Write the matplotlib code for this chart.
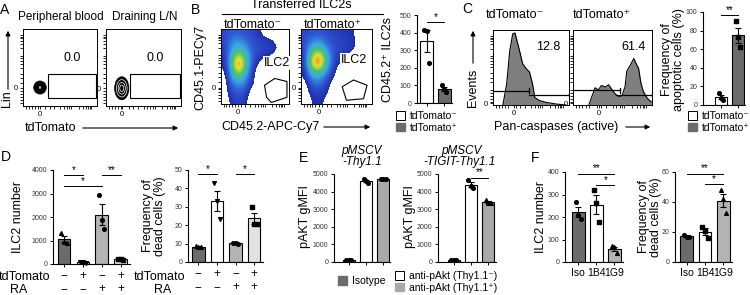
import numpy as np
import matplotlib
matplotlib.use("Agg")
import matplotlib.pyplot as plt
from matplotlib.patches import Patch, Ellipse, Polygon, Rectangle, FancyArrowPatch
from matplotlib.lines import Line2D
from matplotlib.colors import LinearSegmentedColormap

plt.rcParams['font.family'] = ['Liberation Sans', 'DejaVu Sans']

# ---------------- data ----------------
# A: contour blobs (axes fraction) and gate values
blob_centers = [(0.23, 0.24), (0.21, 0.23)]
blob_sizes = [(0.17, 0.17), (0.19, 0.30)]
gate_a = [(0.34, 0.11, 0.98, 0.42), (0.32, 0.11, 0.98, 0.42)]
pct_a = ["0.0", "0.0"]

# B: density grids (rows top->bottom, cols left->right)
dens_neg = [
    [0.15, 0.20, 0.20, 0.18, 0.15, 0.12, 0.00, 0.00, 0.00, 0.00],
    [0.15, 0.25, 0.30, 0.25, 0.18, 0.15, 0.12, 0.10, 0.00, 0.00],
    [0.12, 0.30, 0.45, 0.35, 0.20, 0.17, 0.14, 0.12, 0.09, 0.00],
    [0.10, 0.35, 0.70, 0.50, 0.22, 0.14, 0.10, 0.08, 0.00, 0.00],
    [0.08, 0.40, 0.98, 0.60, 0.20, 0.08, 0.00, 0.00, 0.00, 0.00],
    [0.05, 0.35, 0.80, 0.50, 0.16, 0.00, 0.00, 0.00, 0.00, 0.00],
    [0.00, 0.30, 0.50, 0.35, 0.12, 0.00, 0.00, 0.00, 0.00, 0.00],
    [0.00, 0.20, 0.30, 0.25, 0.10, 0.00, 0.00, 0.00, 0.00, 0.00],
    [0.00, 0.15, 0.20, 0.18, 0.00, 0.00, 0.00, 0.00, 0.00, 0.00],
    [0.00, 0.10, 0.15, 0.12, 0.00, 0.00, 0.00, 0.00, 0.00, 0.00],
]
dens_pos = [
    [0.15, 0.18, 0.18, 0.16, 0.14, 0.12, 0.10, 0.08, 0.00, 0.00],
    [0.16, 0.25, 0.30, 0.22, 0.16, 0.14, 0.12, 0.10, 0.00, 0.00],
    [0.14, 0.40, 0.50, 0.30, 0.18, 0.15, 0.13, 0.10, 0.00, 0.00],
    [0.12, 0.60, 0.85, 0.45, 0.18, 0.12, 0.08, 0.00, 0.00, 0.00],
    [0.10, 0.70, 1.00, 0.50, 0.16, 0.08, 0.00, 0.00, 0.00, 0.00],
    [0.08, 0.50, 0.60, 0.35, 0.12, 0.00, 0.00, 0.00, 0.00, 0.00],
    [0.06, 0.30, 0.35, 0.22, 0.08, 0.00, 0.00, 0.00, 0.00, 0.00],
    [0.00, 0.20, 0.22, 0.15, 0.00, 0.00, 0.00, 0.00, 0.00, 0.00],
    [0.00, 0.12, 0.15, 0.10, 0.00, 0.00, 0.00, 0.00, 0.00, 0.00],
    [0.00, 0.08, 0.10, 0.06, 0.00, 0.00, 0.00, 0.00, 0.00, 0.00],
]
gate_neg = [(0.64, 0.25), (0.79, 0.34), (0.97, 0.30), (0.97, 0.09), (0.74, 0.02), (0.67, 0.09)]
gate_pos = [(0.58, 0.23), (0.74, 0.32), (0.93, 0.25), (0.88, 0.07), (0.64, 0.05)]
b_pts = [[415, 410, 225], [100, 80, 60]]

# C: histograms (axes fraction)
neg_x = [0.13, 0.18, 0.22, 0.26, 0.29, 0.31, 0.35, 0.39, 0.44, 0.48, 0.52, 0.55, 0.61, 0.70, 0.83, 0.96]
neg_y = [0.0, 0.28, 0.72, 0.95, 0.96, 0.88, 0.72, 0.55, 0.48, 0.44, 0.28, 0.10, 0.06, 0.035, 0.013, 0.0]
pos_x = [0.20, 0.24, 0.28, 0.32, 0.36, 0.41, 0.45, 0.49, 0.54, 0.58, 0.62, 0.66, 0.68, 0.73,
         0.77, 0.80, 0.83, 0.86, 0.89, 0.94, 0.98, 1.0]
pos_y = [0.0, 0.115, 0.23, 0.20, 0.26, 0.24, 0.27, 0.21, 0.14, 0.115, 0.12, 0.25, 0.45, 0.54,
         0.62, 0.55, 0.49, 0.29, 0.18, 0.09, 0.05, 0.04]
c_pts = [[13, 7.5, 5.5], [90, 73, 62]]

# D
td_row = ["−", "+", "−", "+"]
ra_row = ["−", "−", "+", "+"]
d_ilc2 = [[1300, 950, 900], [80, 70, 55], [2950, 1880, 1480], [230, 200, 170]]
d_dead = [[8.8, 8.2, 8.0], [43, 33, 23.5], [10.5, 10.2, 10.0], [30, 20.5, 20.5]]

# E
e_thy = [[110, 100, 95], [4700, 4600, 4470], [4720, 4700, 4690]]
e_tigit = [[110, 100, 95], [4680, 4300, 4200], [3500, 3380, 3330]]

# F
f_labels = ["Iso", "1B4", "1G9"]
f_ilc2 = [[265, 210, 190], [322, 263, 179], [72, 65, 40]]
f_dead = [[18.2, 17, 17], [23.5, 21, 16], [48, 42, 33]]

DARK, MID, LIGHT, PALE = "#6b6b6b", "#a9a9a9", "#b4b4b4", "#e3e3e3"
FS = 9

# ---------------- helpers ----------------
W, H = 750, 295
fig = plt.figure(figsize=(7.5, 2.95), dpi=100)


def axes_px(x0, y0, x1, y1):
    return fig.add_axes([x0 / W, 1 - y1 / H, (x1 - x0) / W, (y1 - y0) / H])


def text_px(x, y, s, **kw):
    kw.setdefault("ha", "center")
    kw.setdefault("va", "center")
    kw.setdefault("fontsize", FS)
    fig.text(x / W, 1 - y / H, s, **kw)


def arrow_px(x0, y0, x1, y1):
    fig.add_artist(FancyArrowPatch((x0 / W, 1 - y0 / H), (x1 / W, 1 - y1 / H),
                                   transform=fig.transFigure, arrowstyle="-|>",
                                   mutation_scale=7, lw=0.8, color="black"))


minor = [0.04, 0.08, 0.12, 0.16, 0.2, 0.3, 0.36, 0.42, 0.5, 0.55, 0.59, 0.62, 0.65,
         0.75, 0.81, 0.85, 0.88, 0.9, 0.92]


def flow_style(ax, x0, y0):
    ax.set_xlim(0, 1)
    ax.set_ylim(0, 1)
    for s in ax.spines.values():
        s.set_linewidth(0.7)
    ax.set_xticks([x0])
    ax.set_xticklabels(["0"])
    ax.set_yticks([y0])
    ax.set_yticklabels(["0"])
    ax.set_xticks(minor, minor=True)
    ax.set_yticks(minor, minor=True)
    ax.tick_params(which="both", length=2, width=0.6, labelsize=5.5, pad=1.5)


def bar_panel(ax, pts, colors, markers, xlim, ylim, yticks, width=0.7):
    offs = [-0.14, 0.0, 0.14]
    for i, p in enumerate(pts):
        m = np.mean(p)
        sem = np.std(p, ddof=1) / np.sqrt(len(p))
        ax.bar(i, m, width=width, color=colors[i], edgecolor="black", lw=0.8, zorder=1)
        ax.errorbar(i, m, yerr=sem, color="black", capsize=2.2, lw=0.8, capthick=0.8, zorder=3)
        ax.scatter(np.array(offs[:len(p)]) + i, p, marker=markers[i], s=7, color="black",
                   zorder=4, clip_on=False)
    ax.set_xlim(*xlim)
    ax.set_ylim(*ylim)
    ax.set_yticks(yticks)
    ax.set_xticks(range(len(pts)))
    ax.set_xticklabels([])
    for s in ["top", "right"]:
        ax.spines[s].set_visible(False)
    for s in ["left", "bottom"]:
        ax.spines[s].set_linewidth(0.8)
    ax.tick_params(length=2.5, width=0.7, labelsize=5, pad=1.5, labelcolor="#333333")


def sig(ax, a, b, y, s):
    ax.plot([a, b], [y, y], color="black", lw=0.7, clip_on=False)
    ax.text((a + b) / 2, y, s, ha="center", va="bottom", fontsize=7, clip_on=False)


def legend_px(x, y, handles, labels):
    fig.legend(handles, labels, loc="upper left", bbox_to_anchor=(x / W, 1 - y / H),
               frameon=False, fontsize=7.5, handlelength=0.9, handleheight=0.9,
               handletextpad=0.4, labelspacing=0.15, borderpad=0, borderaxespad=0)


cmap = LinearSegmentedColormap.from_list(
    "flow", [(0, "#1c2fb0"), (0.12, "#2f52d0"), (0.3, "#38a8e8"), (0.5, "#4cc46a"),
             (0.7, "#e8e030"), (0.85, "#f08a20"), (1, "#e01818")])
cmap.set_under("white")

# ---------------- panel A ----------------
text_px(5, 10, "A", fontsize=10)
for k, (x0, x1, title, tx) in enumerate([(23, 97, "Peripheral blood", 61), (106, 181, "Draining L/N", 145)]):
    ax = axes_px(x0, 29, x1, 106)
    flow_style(ax, blob_centers[k][0], blob_centers[k][1])
    cx, cy = blob_centers[k]
    bw, bh = blob_sizes[k]
    ax.add_patch(Ellipse((cx, cy), bw, bh, facecolor="black", edgecolor="black", lw=0.5))
    rings = [0.12] if k == 0 else [0.75, 0.5, 0.28]
    for f in rings:
        ax.add_patch(Ellipse((cx, cy), bw * f, bh * f, facecolor="none", edgecolor="white", lw=0.5))
    gx0, gy0, gx1, gy1 = gate_a[k]
    ax.add_patch(Rectangle((gx0, gy0), gx1 - gx0, gy1 - gy0, fill=False, lw=0.8))
    ax.text(0.66, 0.62, pct_a[k], fontsize=FS, ha="center", va="center", transform=ax.transAxes)
    text_px(tx, 17, title, fontsize=8.5)
arrow_px(8, 92, 8, 28)
text_px(7, 99, "Lin", rotation=90)
text_px(51, 128, "tdTomato")
arrow_px(80, 128, 181, 128)

# ---------------- panel B ----------------
text_px(195, 10, "B", fontsize=10)
text_px(301, 5, "Transferred ILC2s")
fig.add_artist(Line2D([222 / W, 383 / W], [1 - 14 / H, 1 - 14 / H], transform=fig.transFigure,
                      color="black", lw=0.8))
for dens, gate, (x0, x1), title, tx, lab in [
        (dens_neg, gate_neg, (221, 289), "tdTomato⁻", 253, (0.82, 0.55)),
        (dens_pos, gate_pos, (301, 372), "tdTomato⁺", 333, (0.74, 0.59))]:
    ax = axes_px(x0, 29, x1, 104)
    ax.imshow(dens, extent=(0, 1, 0, 1), origin="upper", interpolation="bicubic",
              interpolation_stage="data", cmap=cmap, vmin=0.075, vmax=1, aspect="auto")
    flow_style(ax, 0.25, 0.22)
    ax.add_patch(Polygon(gate, closed=True, fill=False, lw=0.8))
    ax.text(lab[0], lab[1], "ILC2", fontsize=FS, ha="center", va="center", transform=ax.transAxes,
            bbox=dict(facecolor="white", edgecolor="none", pad=0.5))
    text_px(tx, 25, title)
text_px(200, 67, "CD45.1-PECy7", rotation=90)
text_px(270, 127, "CD45.2-APC-Cy7")
arrow_px(321, 127, 373, 127)

ax = axes_px(417, 15, 452, 103)
bar_panel(ax, b_pts, ["white", DARK], ["o", "o"], (-0.56, 1.46), (0, 500), range(0, 501, 100), 0.75)
sig(ax, 0, 1, 460, "*")
text_px(388, 60, "CD45.2⁺ ILC2s", rotation=90)
legend_px(396, 111, [Patch(facecolor="white", edgecolor="black", lw=0.7), Patch(facecolor=DARK, edgecolor=DARK)],
          ["tdTomato⁻", "tdTomato⁺"])

# ---------------- panel C ----------------
text_px(467, 9, "C", fontsize=10)
for (x0, x1), hx, hy, title, tx, x0t, pct, gates in [
        ((493, 569), neg_x, neg_y, "tdTomato⁻", 515, 0.28, ("12.8", 0.73),
         [(0, 0.48, 0.19), (0.48, 1.0, 0.13)]),
        ((573, 652), pos_x, pos_y, "tdTomato⁺", 602, 0.33, ("61.4", 0.77),
         [(0, 0.60, 0.195), (0.54, 1.0, 0.13)])]:
    ax = axes_px(x0, 30, x1, 105)
    ax.fill_between(hx, hy, color="#7f7f7f", lw=0)
    ax.plot(hx, hy, color="black", lw=0.8)
    flow_style(ax, x0t, 0.02)
    for ga, gb, gy in gates:
        ax.plot([ga, gb], [gy, gy], color="black", lw=0.9)
        ax.plot([gb, gb], [gy - 0.03, gy + 0.03], color="black", lw=0.9)
    ax.text(pct[1], 0.77, pct[0], fontsize=FS, ha="center", va="center", transform=ax.transAxes)
    text_px(tx, 15, title)
text_px(473, 88, "Events", rotation=90)
arrow_px(473, 66, 473, 28)
text_px(556, 127, "Pan-caspases (active)")
arrow_px(623, 127, 653, 127)

ax = axes_px(703, 12, 745, 105)
bar_panel(ax, c_pts, ["white", DARK], ["o", "s"], (-1.06, 1.41), (0, 100), range(0, 101, 20))
sig(ax, 0, 1, 97, "**")
text_px(673, 60, "Frequency of\napoptotic cells (%)", rotation=90, linespacing=1.05)
legend_px(688, 111, [Patch(facecolor="white", edgecolor="black", lw=0.7), Patch(facecolor=DARK, edgecolor=DARK)],
          ["tdTomato⁻", "tdTomato⁺"])

# ---------------- panel D ----------------
text_px(6, 157, "D", fontsize=10)
row_labels = [f"{a}\n{b}" for a, b in zip(td_row, ra_row)]
ax = axes_px(53, 170, 130, 264)
bar_panel(ax, d_ilc2, [DARK, "white", LIGHT, PALE], ["^", "v", "o", "s"], (-0.58, 3.49),
          (0, 4000), range(0, 4001, 1000), 0.67)
ax.set_xticklabels(row_labels, fontsize=8.5, linespacing=1.2, color="black")
sig(ax, 0, 1, 3790, "*")
sig(ax, 2, 3, 3790, "**")
sig(ax, 0, 2, 3320, "*")
text_px(18, 217, "ILC2 number", rotation=90)
text_px(50, 277, "tdTomato", ha="right")
text_px(19, 290, "RA")

ax = axes_px(188, 170, 263, 262)
bar_panel(ax, d_dead, [DARK, "white", LIGHT, PALE], ["^", "v", "o", "s"], (-0.55, 3.47),
          (0, 50), range(0, 51, 10), 0.67)
ax.set_xticklabels(row_labels, fontsize=8.5, linespacing=1.2, color="black")
sig(ax, 0, 1, 48, "*")
sig(ax, 2, 3, 48, "*")
text_px(154, 216, "Frequency of\ndead cells (%)", rotation=90, linespacing=1.05)
text_px(185, 277, "tdTomato", ha="right")
text_px(163, 290, "RA")

# ---------------- panel E ----------------
text_px(304, 158, "E", fontsize=10)
ax = axes_px(334, 174, 390, 262)
bar_panel(ax, e_thy, [DARK, "white", MID], ["o", "o", "o"], (-0.86, 2.4), (0, 5000),
          range(0, 5001, 1000))
text_px(305, 217, "pAKT gMFI", rotation=90)
text_px(362, 151, "pMSCV", style="italic", fontsize=8.5)
text_px(362, 162, "-Thy1.1", style="italic", fontsize=8.5)

ax = axes_px(438, 174, 496, 262)
bar_panel(ax, e_tigit, [DARK, "white", MID], ["o", "o", "^"], (-0.9, 2.45), (0, 5000),
          range(0, 5001, 1000))
sig(ax, 1, 2, 4800, "**")
text_px(410, 217, "pAKT gMFI", rotation=90)
text_px(462, 151, "pMSCV", style="italic", fontsize=8.5)
text_px(460, 162, "-TIGIT-Thy1.1", style="italic", fontsize=8.5)

legend_px(338, 276, [Patch(facecolor=DARK, edgecolor=DARK)], ["Isotype"])
legend_px(395, 271, [Patch(facecolor="white", edgecolor="black", lw=0.7), Patch(facecolor=MID, edgecolor=MID)],
          ["anti-pAkt (Thy1.1⁻)", "anti-pAkt (Thy1.1⁺)"])

# ---------------- panel F ----------------
text_px(535, 158, "F", fontsize=10)
ax = axes_px(565, 172, 623, 262)
bar_panel(ax, f_ilc2, [DARK, "white", LIGHT], ["o", "s", "^"], (-0.73, 2.47), (0, 400),
          range(0, 401, 100))
ax.set_xticklabels(f_labels, fontsize=7.5, color="black")
sig(ax, 0, 2, 393, "**")
sig(ax, 1, 2, 344, "*")
text_px(541, 217, "ILC2 number", rotation=90)

ax = axes_px(675, 172, 732, 262)
bar_panel(ax, f_dead, [DARK, "white", LIGHT], ["o", "s", "^"], (-0.64, 2.47), (0, 60),
          range(0, 61, 20))
ax.set_xticklabels(f_labels, fontsize=7.5, color="black")
sig(ax, 0, 2, 59, "**")
sig(ax, 1, 2, 51.7, "*")
text_px(650, 217, "Frequency of\ndead cells (%)", rotation=90, linespacing=1.05)

fig.savefig("out.png", dpi=100)
